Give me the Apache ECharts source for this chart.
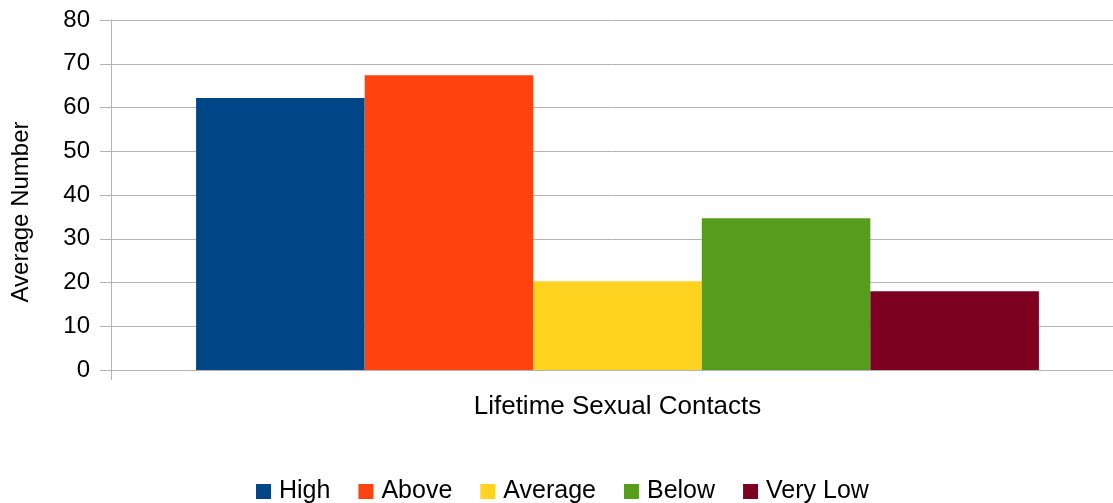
<!DOCTYPE html>
<html>
<head>
<meta charset="utf-8">
<script src="https://cdn.jsdelivr.net/npm/echarts@6/dist/echarts.min.js"></script>
<style>
  html, body { margin: 0; padding: 0; background: #fff; }
  #chart { width: 1113px; height: 503px; }
</style>
</head>
<body>
<div id="chart"></div>
<script>
// Average number of lifetime sexual contacts by group
const categories = ['Lifetime Sexual Contacts'];
const seriesNames = ['High', 'Above', 'Average', 'Below', 'Very Low'];
const seriesValues = [62.2, 67.4, 20.3, 34.7, 18.0];
const seriesColors = ['#004586', '#ff420e', '#ffd320', '#579d1c', '#7e0021'];
const yTicks = { min: 0, max: 80, interval: 10 };

const font = '"Liberation Sans", Arial, sans-serif';
const axisGray = '#b3b3b3';

const chart = echarts.init(document.getElementById('chart'));
chart.setOption({
  animation: false,
  grid: {
    left: 111, top: 20, width: 1013, height: 350,
    containLabel: false,
    outerBoundsMode: 'none'
  },
  legend: {
    top: 474,
    left: 251,
    itemWidth: 15,
    itemHeight: 15,
    itemGap: 28,
    icon: 'rect',
    textStyle: { fontFamily: font, fontSize: 25, color: '#000', padding: [0, 0, 0, 3] },
    data: seriesNames
  },
  xAxis: {
    type: 'category',
    data: categories,
    name: categories[0],
    nameLocation: 'middle',
    nameGap: 24,
    nameTextStyle: { fontFamily: font, fontSize: 26, color: '#000' },
    axisLine: { lineStyle: { color: axisGray } },
    axisTick: { show: true, length: 10, lineStyle: { color: axisGray } },
    axisLabel: { show: false }
  },
  yAxis: {
    type: 'value',
    min: yTicks.min,
    max: yTicks.max,
    interval: yTicks.interval,
    name: 'Average Number',
    nameLocation: 'middle',
    nameGap: 78,
    nameTextStyle: { fontFamily: font, fontSize: 24, color: '#000', padding: [0, 34, 0, 0] },
    axisLine: { show: true, lineStyle: { color: axisGray } },
    axisTick: { show: true, length: 11, lineStyle: { color: axisGray } },
    axisLabel: { fontFamily: font, fontSize: 24, color: '#000', margin: 21 },
    splitLine: { lineStyle: { color: axisGray } }
  },
  series: seriesNames.map((name, i) => ({
    name: name,
    type: 'bar',
    data: [seriesValues[i]],
    itemStyle: { color: seriesColors[i] },
    barGap: '0%',
    barCategoryGap: '16.8%'
  }))
});
</script>
</body>
</html>
